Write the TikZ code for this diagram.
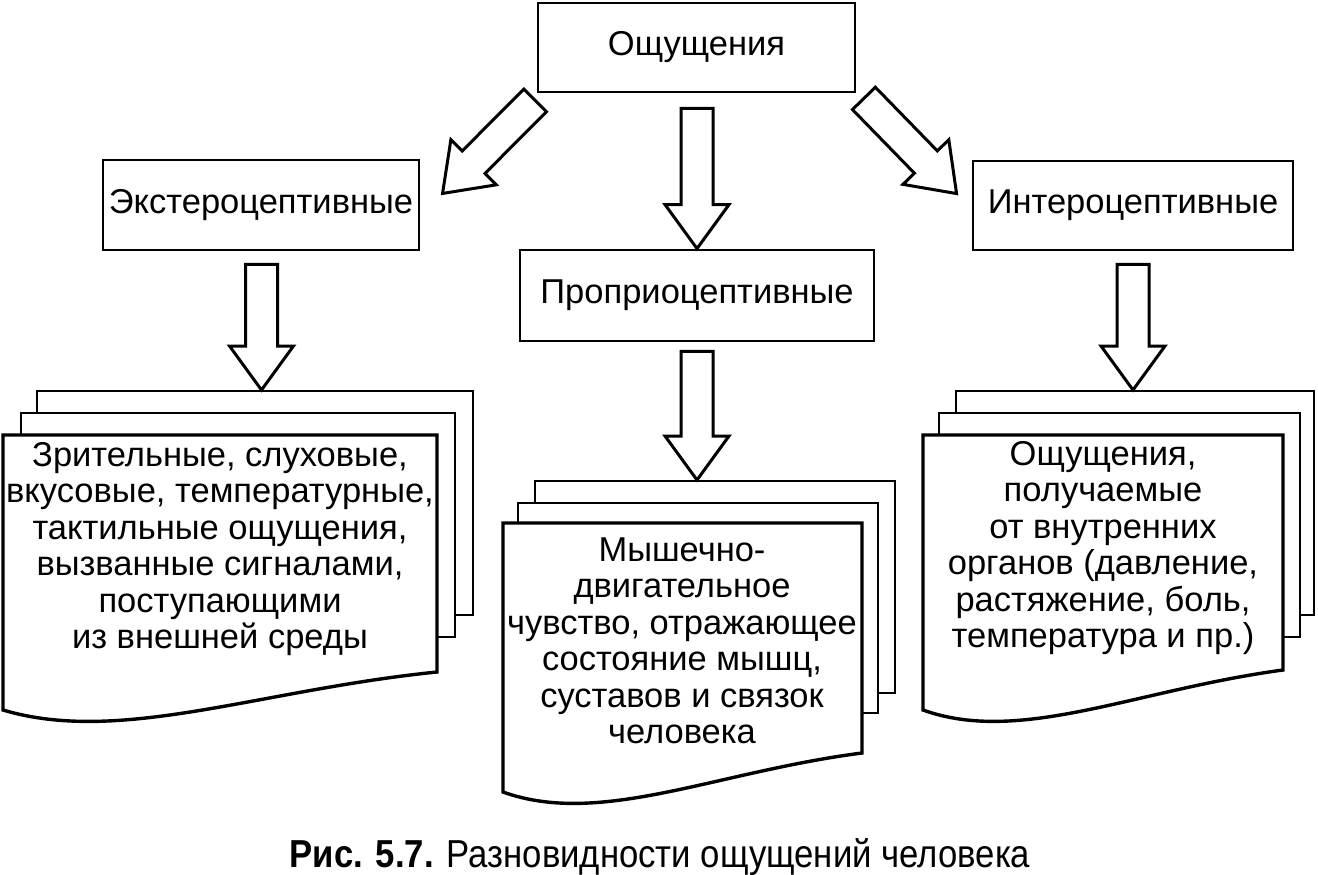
\documentclass[tikz,border=0pt]{standalone}
\usepackage{fontspec}
\setmainfont{Liberation Sans}
\newfontfamily\capfont{Liberation Sans}[FakeStretch=0.89]
\usetikzlibrary{calc}
\tikzset{
  box/.style={draw, line width=2.8pt, inner sep=0pt, fill=white, font=\fontsize{34.5}{38}\selectfont},
  sheet/.style={draw, line width=2.4pt, fill=white},
  frontsheet/.style={draw, line width=3.4pt, fill=white, line join=miter},
  blockarrow/.style={draw, line width=3pt, fill=white, line join=miter},
  doctext/.style={align=center, inner sep=0pt, font=\fontsize{34.5}{36.5}\selectfont}
}
% block arrow from coordinate #1 (shaft base) to coordinate #2 (tip)
\newcommand\barrow[2]{%
  \draw[blockarrow] let \p1=($(#2)-(#1)$), \n1={veclen(\x1,\y1)}, \n2={atan2(\y1,\x1)} in
    [shift={(#1)}, rotate=\n2] (0,-16) -- (\n1-44,-16) -- (\n1-44,-32) -- (\n1,0)
    -- (\n1-44,32) -- (\n1-44,16) -- (0,16) -- cycle;}
\begin{document}
\begin{tikzpicture}[x=1pt,y=-1pt]
\useasboundingbox (0,0) rectangle (1318,875);

% boxes
\node[box, minimum width=317pt, minimum height=89pt] (sens) at (696.5,47.5) {Ощущения};
\node[box, minimum width=316pt, minimum height=90pt] (ext) at (261,205) {Экстероцептивные};
\node[box, minimum width=320pt, minimum height=89pt] (int) at (1133,205.5) {Интероцептивные};
\node[box, minimum width=354pt, minimum height=91pt] (prop) at (697,295.5) {Проприоцептивные};

% left document stack
\draw[sheet] (37,391) rectangle (473,615);
\draw[sheet] (21,413) rectangle (455,637);
\draw[frontsheet] (3,435) -- (437,435) -- (437,672)
  .. controls (259,690) and (120,745) .. (3,710) -- cycle;
\node[doctext] (extdoc) at (220,549) {Зрительные, слуховые,\\вкусовые, температурные,\\тактильные ощущения,\\вызванные сигналами,\\поступающими\\из внешней среды};

% middle document stack
\draw[sheet] (535,481) rectangle (895,693);
\draw[sheet] (518,503) rectangle (878,713);
\draw[frontsheet] (503,523) -- (862,523) -- (862,753)
  .. controls (715,772) and (600,827) .. (503,792) -- cycle;
\node[doctext] (propdoc) at (682,641) {Мышечно-\\двигательное\\чувство, отражающее\\состояние мышц,\\суставов и связок\\человека};

% right document stack
\draw[sheet] (956,391) rectangle (1314,615);
\draw[sheet] (939,413) rectangle (1300,637);
\draw[frontsheet] (923,435) -- (1283,435) -- (1283,670)
  .. controls (1135,690) and (1020,745) .. (923,710) -- cycle;
\node[doctext] (intdoc) at (1103,548) {Ощущения,\\получаемые\\от внутренних\\органов (давление,\\растяжение, боль,\\температура и пр.)};

% arrow coordinates
\coordinate (a0) at ($(sens.south)+(0.5,15)$);
\coordinate (a1) at ($(sens.south west)+(-1.5,7)$);
\coordinate (t1) at ($(ext.north east)+(22,35)$);
\coordinate (a2) at ($(sens.south east)+(7.5,5)$);
\coordinate (t2) at ($(int.north west)+(-15,34)$);
\coordinate (a3) at ($(ext.south)+(0.5,13)$);
\coordinate (t3) at (261.5,390);
\coordinate (a4) at ($(int.south)+(0,13)$);
\coordinate (t4) at (1133,390);
\coordinate (a5) at ($(prop.south)+(0,9)$);
\coordinate (t5) at (697,480);

\barrow{a0}{prop.north}
\barrow{a1}{t1}
\barrow{a2}{t2}
\barrow{a3}{t3}
\barrow{a4}{t4}
\barrow{a5}{t5}

% caption
\node[inner sep=0pt] (cap) at (660,857) {\capfont\fontsize{39}{39}\selectfont\textbf{Рис. 5.7.} Разновидности ощущений человека};
\end{tikzpicture}
\end{document}
